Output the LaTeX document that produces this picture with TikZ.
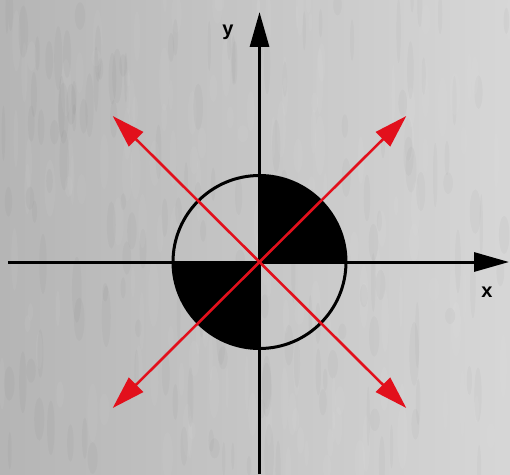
\documentclass[tikz,border=0pt]{standalone}
\usepackage{fontspec}
\setmainfont{Liberation Sans}
\usetikzlibrary{arrows.meta}
\definecolor{rouge}{HTML}{E2101C}
\definecolor{beton}{HTML}{C9C9C9}
\tikzset{
  axe/.style={line width=3pt,-{Triangle[length=35pt,width=19pt]}},
  fleche/.style={rouge,line width=2.6pt,-{Triangle[length=33pt,width=20pt]}},
  etiquette/.style={font=\fontsize{20}{24}\selectfont\bfseries}
}
\begin{document}
\begin{tikzpicture}[x=1pt,y=1pt]
  % Le fond (gris béton)
  \shade[left color=beton!90!black,right color=beton!75!white]
    (-259.5,-212) rectangle (250.5,262);
  \useasboundingbox (-259.5,-212) rectangle (250.5,262);
  \pgfmathsetseed{7}
  \foreach \i in {1,...,160}{
    \pgfmathsetmacro{\px}{-259.5+rnd*510}
    \pgfmathsetmacro{\py}{-212+rnd*474}
    \fill[white,opacity=0.045] (\px,\py) ellipse (1.5+rnd*4 and 8+rnd*25);
    \pgfmathsetmacro{\qx}{-259.5+rnd*510}
    \pgfmathsetmacro{\qy}{-212+rnd*474}
    \fill[black,opacity=0.025] (\qx,\qy) ellipse (1.5+rnd*4 and 8+rnd*25);
  }
  % Le centre et les extrémités
  \coordinate (O) at (0,0);
  \coordinate (Xg) at (-251.5,0);
  \coordinate (Xd) at (249.5,0);
  \coordinate (Yb) at (0,-212);
  \coordinate (Yh) at (0,250);
  \coordinate (HD) at (146.8,146);
  \coordinate (HG) at (-146.8,146);
  \coordinate (BG) at (-146.8,-146);
  \coordinate (BD) at (146.8,-146);

  % Les quadrants noirs
  \fill[black] (O) -- (86.5,0) arc (0:90:86.5) -- cycle;
  \fill[black] (O) -- (-86.5,0) arc (180:270:86.5) -- cycle;
  \draw[line width=3pt] (O) circle (86.5);

  % Les axes
  \draw[axe] (Xg) -- (Xd);
  \draw[axe] (Yb) -- (Yh);
  \node[etiquette] (lx) at (227.5,-30) {x};
  \node[etiquette] (ly) at (-31.5,230) {y};

  % Les flèches rouges
  \draw[fleche] (O) -- (HD);
  \draw[fleche] (O) -- (HG);
  \draw[fleche] (O) -- (BG);
  \draw[fleche] (O) -- (BD);
\end{tikzpicture}
\end{document}
